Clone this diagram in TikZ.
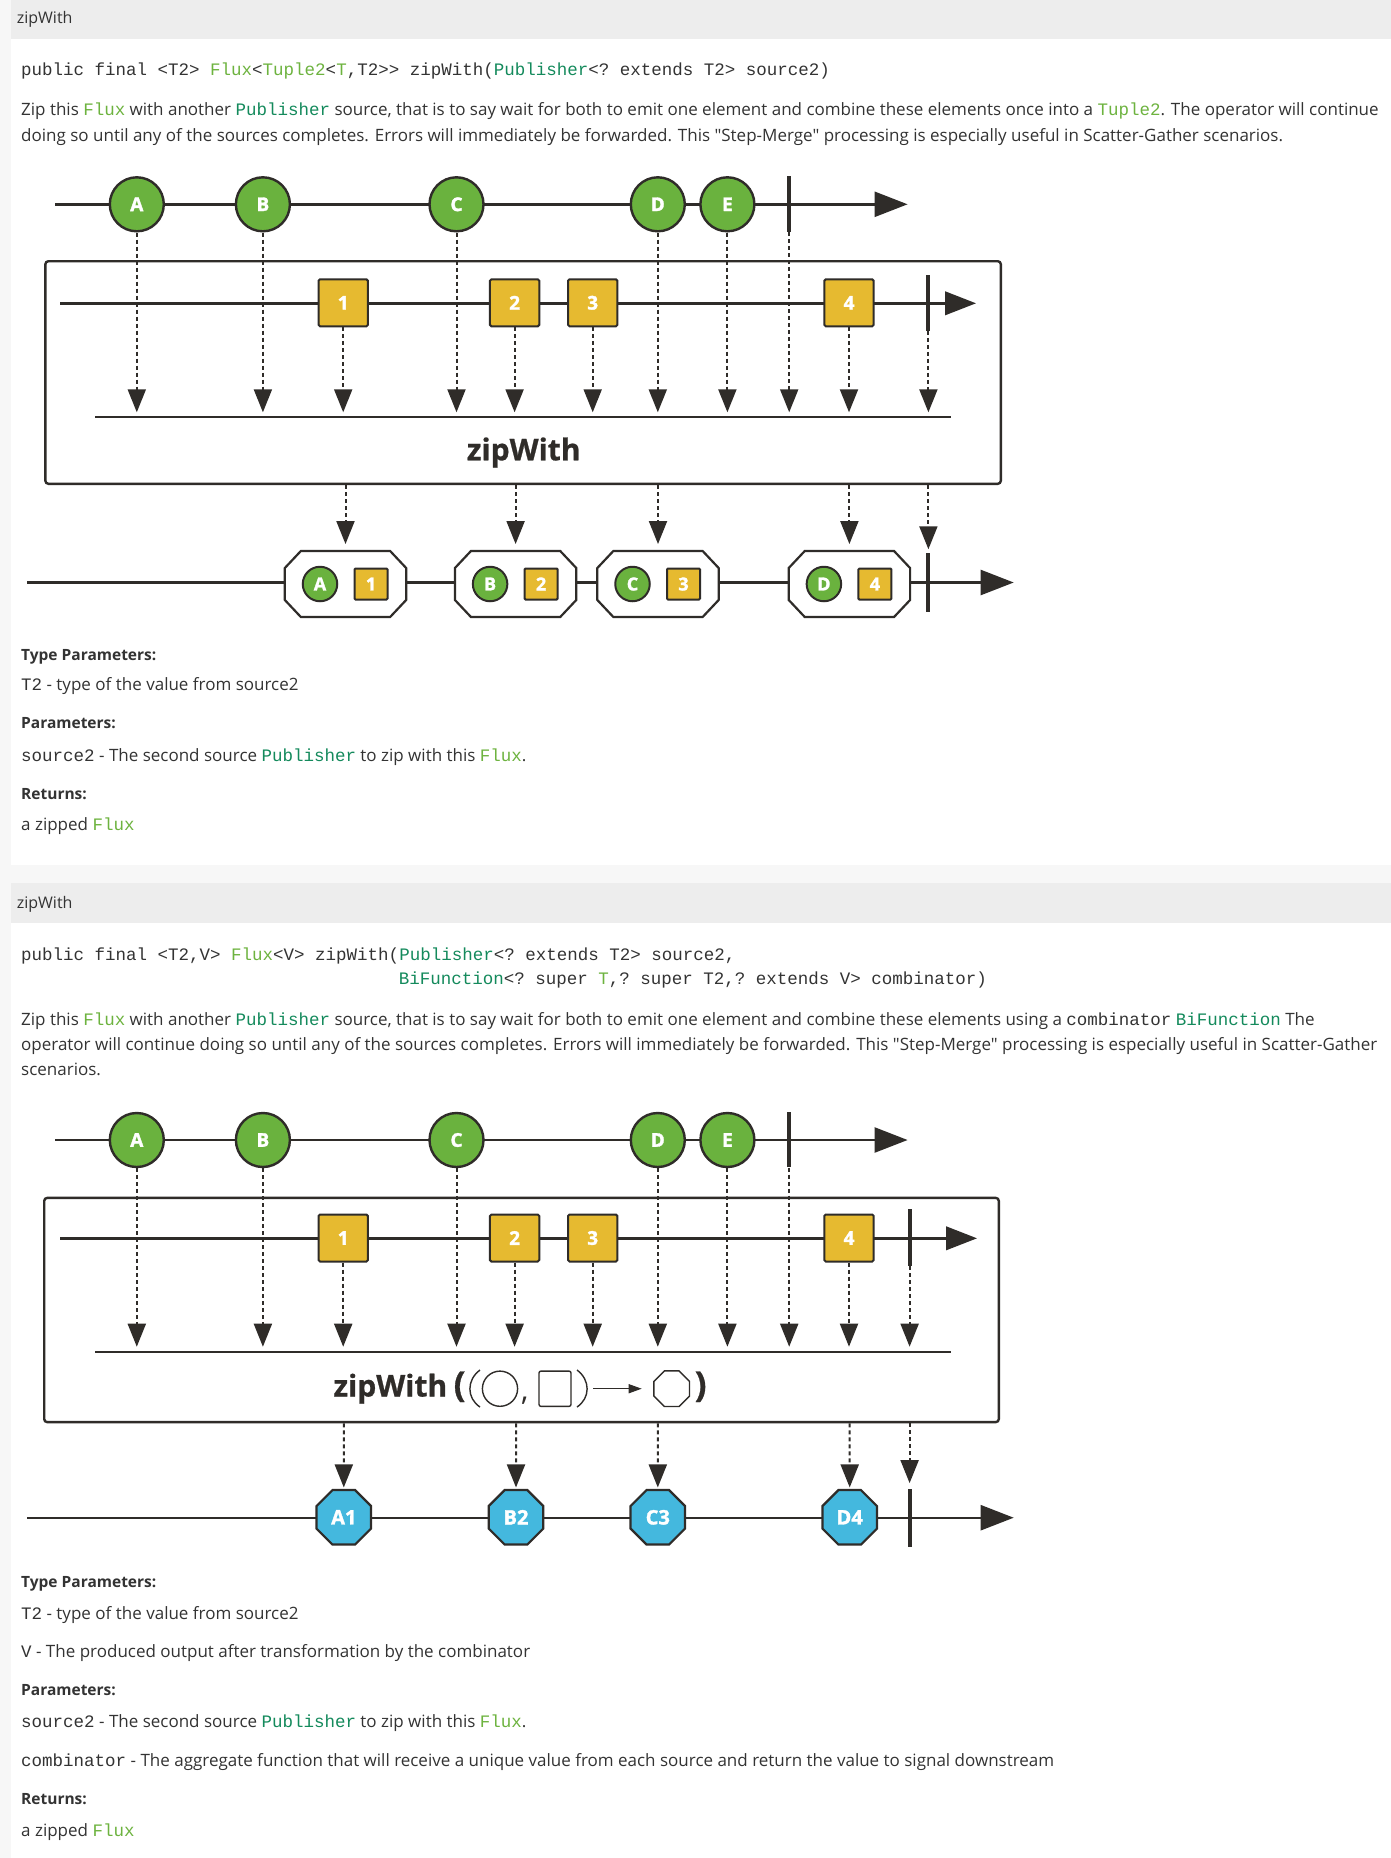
\documentclass[tikz,border=0pt]{standalone}
\usepackage{fontspec}
\setmainfont{Open Sans}[Ligatures=TeXOff]
\setmonofont{Liberation Mono}
\newfontfamily\mfont{Open Sans}[BoldFeatures={FakeBold=1.6}]
\newfontfamily\lfont{Open Sans}[BoldFeatures={FakeBold=0.8}]
\usetikzlibrary{arrows.meta,shapes.geometric}
\definecolor{dk}{HTML}{2F2C29}
\definecolor{txt}{HTML}{333333}
\definecolor{lg}{HTML}{6DB33F}
\definecolor{tg}{HTML}{148A5C}
\definecolor{mg}{HTML}{6AB23E}
\definecolor{my}{HTML}{E6BA30}
\definecolor{mb}{HTML}{44B8DE}
\definecolor{pagebg}{HTML}{F7F7F7}
\definecolor{hdr}{HTML}{EDEDED}
\newcommand\mtt[1]{{\fontsize{17.5}{20}\selectfont\ttfamily #1}}
\newcommand\fl[1]{\textcolor{lg}{\mtt{#1}}}
\newcommand\pb[1]{\textcolor{tg}{\mtt{#1}}}
\newcommand\tuplebox[5]{%
  \node (#1) [tupb] at (#2,#3) {};
  \draw[tupl] ([xshift=16pt]#1.north west) -- ([xshift=-16pt]#1.north east) -- ([yshift=-17pt]#1.north east) -- ([yshift=17pt]#1.south east) -- ([xshift=-16pt]#1.south east) -- ([xshift=16pt]#1.south west) -- ([yshift=17pt]#1.south west) -- ([yshift=-17pt]#1.north west) -- cycle;
  \node (#1c) [tc] at ([xshift=-25.5pt]#1.center) {#4};
  \node (#1s) [ts] at ([xshift=25.5pt]#1.center) {#5};
}
\tikzset{
 ln/.style={draw=dk, line width=2.4pt},
 bigarrow/.style={-{Triangle[width=25pt,length=33pt]}},
 midarrow/.style={-{Triangle[width=23.5pt,length=31pt]}},
 dsh/.style={draw=dk, line width=2pt, dash pattern=on 4pt off 3pt, -{Triangle[width=18pt,length=23pt]}},
 marb/.style={circle, draw=dk, line width=2.4pt, fill=mg, minimum size=54pt, inner sep=0pt, text=white, font=\mfont\fontsize{19}{19}\selectfont\bfseries},
 sqn/.style={rectangle, rounded corners=1.5pt, draw=dk, line width=2pt, fill=my, minimum width=49.4pt, minimum height=47pt, inner sep=0pt, text=white, font=\mfont\fontsize{19}{19}\selectfont\bfseries},
 barn/.style={rectangle, fill=dk, minimum width=4pt, inner sep=0pt},
 bx/.style={rectangle, draw=dk, line width=2.4pt, rounded corners=3pt, inner sep=0pt},
 tupb/.style={rectangle, minimum width=121pt, minimum height=65.5pt, inner sep=0pt},
 tupl/.style={draw=dk, line width=2.2pt, fill=white, line join=miter},
 tc/.style={circle, draw=dk, line width=2pt, fill=mg, minimum size=34.5pt, inner sep=0pt, text=white, font=\mfont\fontsize{18}{18}\selectfont\bfseries},
 ts/.style={rectangle, rounded corners=1pt, draw=dk, line width=2pt, fill=my, minimum width=33pt, minimum height=31pt, inner sep=0pt, text=white, font=\mfont\fontsize{18}{18}\selectfont\bfseries},
 oct/.style={regular polygon, regular polygon sides=8, draw=dk, line width=2.2pt, fill=mb, minimum size=59pt, inner sep=0pt, text=white, font=\mfont\fontsize{20}{20}\selectfont\bfseries},
 opl/.style={font=\lfont\fontsize{30}{30}\selectfont\bfseries, text=dk, inner sep=0pt},
 paren/.style={font=\lfont\fontsize{35}{35}\selectfont\bfseries, text=dk, inner sep=0pt, anchor=base west},
 thinp/.style={draw=dk, line width=1.4pt},
 tx/.style={anchor=base west, inner sep=0pt, text=txt, font=\fontsize{17}{20}\selectfont},
 hd/.style={anchor=base west, inner sep=0pt, text=txt, font=\fontsize{16}{19}\selectfont},
 hb/.style={anchor=base west, inner sep=0pt, text=txt, font=\fontsize{15.5}{19}\selectfont\bfseries},
 cl/.style={anchor=base west, inner sep=0pt, text=txt, font=\fontsize{17.5}{20}\selectfont\ttfamily},
}
\begin{document}
\begin{tikzpicture}[x=1pt,y=-1pt]
\useasboundingbox (0,0) rectangle (1391,1858);
% page
\fill[pagebg] (0,0) rectangle (1391,1858);
\fill[white] (10.6,0) rectangle (1391,865);
\fill[hdr] (10.6,0) rectangle (1391,38.5);
\fill[white] (10.6,882.7) rectangle (1391,1858);
\fill[hdr] (10.6,882.7) rectangle (1391,923.3);

% ---------- section 1 text ----------
\node (h1) [hd] at (16.6,23) {zipWith};
\node (code1) [cl] at (21,75) {public final <T2> \fl{Flux}<\fl{Tuple2}<\fl{T},T2>> zipWith(\pb{Publisher}<? extends T2> source2)};
\node (d1a) [tx] at (21,115.5) {Zip this \fl{Flux} with another \pb{Publisher} source, that is to say wait for both to emit one element and combine these elements once into a \fl{Tuple2}. The operator will continue};
\node (d1b) [tx] at (21,141.2) {doing so until any of the sources completes. Errors will immediately be forwarded. This "Step-Merge" processing is especially useful in Scatter-Gather scenarios.};

% ---------- diagram 1 ----------
\coordinate (L1s) at (55,204.3);
\coordinate (L1e) at (907.6,204.3);
\draw[ln,bigarrow] (L1s) -- (L1e);
\node (box1) [bx, minimum width=955.4pt, minimum height=222.6pt] at (523.1,372.5) {};
\coordinate (M1s) at (60,303.3);
\coordinate (M1e) at (976,303.3);
\draw[ln,midarrow] (M1s) -- (M1e);
\coordinate (B1s) at (95,416.7);
\coordinate (B1e) at (950.5,416.7);
\draw[ln] (B1s) -- (B1e);
\coordinate (tip1) at (0,412.3);

\node (a1) [marb] at (136.8,204.3) {A};
\node (b1) [marb] at (262.9,204.3) {B};
\node (c1) [marb] at (456.5,204.3) {C};
\node (dd1) [marb] at (657.8,204.3) {D};
\node (e1) [marb] at (727.4,204.3) {E};
\node (tb1) [barn, minimum height=56pt] at (789.2,204) {};
\node (s11) [sqn] at (343.2,302.8) {1};
\node (s21) [sqn] at (514.6,302.8) {2};
\node (s31) [sqn] at (592.7,302.8) {3};
\node (s41) [sqn] at (849,302.8) {4};
\node (ib1) [barn, minimum height=55.7pt] at (928.4,302.9) {};
\foreach \n in {a1,b1,s11,c1,s21,s31,dd1,e1,tb1,s41,ib1}
  \draw[dsh] (\n.south) -- (\n |- tip1);
\node (lab1) [opl] at (523.7,452.5) {zipWith};

\coordinate (O1s) at (27.3,582.5);
\coordinate (O1e) at (1013.7,582.5);
\draw[ln,bigarrow] (O1s) -- (O1e);
\tuplebox{tA}{345.5}{584}{A}{1}
\tuplebox{tB}{515.6}{584}{B}{2}
\tuplebox{tC}{658}{584}{C}{3}
\tuplebox{tD}{849.4}{584}{D}{4}
\node (ob1) [barn, minimum height=58.7pt] at (928.4,582.3) {};
\foreach \n in {tA,tB,tC,tD}
  \draw[dsh, shorten >=7pt] (\n |- box1.south) -- (\n.north);
\draw[dsh, shorten >=3.5pt] (ob1 |- box1.south) -- (ob1.north);

% ---------- section 1 lists ----------
\node (tp1) [hb] at (21,660.5) {Type Parameters:};
\node (tp1a) [tx] at (21,690.5) {\mtt{T2} - type of the value from source2};
\node (pp1) [hb] at (21,728.5) {Parameters:};
\node (pp1a) [tx] at (21,761.5) {\mtt{source2} - The second source \pb{Publisher} to zip with this \fl{Flux}.};
\node (rr1) [hb] at (21,799) {Returns:};
\node (rr1a) [tx] at (21,830.5) {a zipped \fl{Flux}};

% ---------- section 2 text ----------
\node (h2) [hd] at (16.6,908) {zipWith};
\node (code2a) [cl] at (21,960) {public final <T2,V> \fl{Flux}<V> zipWith(\pb{Publisher}<? extends T2> source2,};
\node (code2b) [cl] at (398.6,984.3) {\pb{BiFunction}<? super \fl{T},? super T2,? extends V> combinator)};
\node (d2a) [tx] at (21,1025.5) {Zip this \fl{Flux} with another \pb{Publisher} source, that is to say wait for both to emit one element and combine these elements using a \mtt{combinator} \pb{BiFunction} The};
\node (d2b) [tx] at (21,1050.8) {operator will continue doing so until any of the sources completes. Errors will immediately be forwarded. This "Step-Merge" processing is especially useful in Scatter-Gather};
\node (d2c) [tx] at (21,1075.8) {scenarios.};

% ---------- diagram 2 ----------
\coordinate (L2s) at (55,1140);
\coordinate (L2e) at (907.6,1140);
\draw[ln,bigarrow] (L2s) -- (L2e);
\node (box2) [bx, minimum width=954.6pt, minimum height=224.2pt] at (521.5,1310) {};
\coordinate (M2s) at (60,1238.3);
\coordinate (M2e) at (977,1238.3);
\draw[ln,midarrow] (M2s) -- (M2e);
\coordinate (B2s) at (95,1351.7);
\coordinate (B2e) at (950.5,1351.7);
\draw[ln] (B2s) -- (B2e);
\coordinate (tip2) at (0,1346.7);

\node (a2) [marb] at (136.8,1140) {A};
\node (b2) [marb] at (262.9,1140) {B};
\node (c2) [marb] at (456.5,1140) {C};
\node (dd2) [marb] at (657.8,1140) {D};
\node (e2) [marb] at (727.4,1140) {E};
\node (tb2) [barn, minimum height=55.6pt] at (789.2,1139.5) {};
\node (s12) [sqn] at (343.2,1238) {1};
\node (s22) [sqn] at (514.6,1238) {2};
\node (s32) [sqn] at (592.7,1238) {3};
\node (s42) [sqn] at (849,1238) {4};
\node (ib2) [barn, minimum height=56.7pt] at (909.6,1237.7) {};
\foreach \n in {a2,b2,s12,c2,s22,s32,dd2,e2,tb2,s42,ib2}
  \draw[dsh] (\n.south) -- (\n |- tip2);

% label zipWith ((O,[])-> oct )
\node (lab2) [opl, anchor=base west] at (333.3,1396.5) {zipWith};
\node (lp1) [paren] at (453.5,1396.5) {(};
\draw[thinp] (480,1370) .. controls (466.5,1380) and (466.5,1398) .. (480,1407);
\node (gc) [circle, draw=dk, line width=1.4pt, minimum size=35.2pt, inner sep=0pt] at (500,1388.7) {};
\node (gcm) [anchor=base west, inner sep=0pt, text=dk, font=\fontsize{30}{30}\selectfont] at (521,1400) {,};
\node (gsq) [rectangle, rounded corners=2pt, draw=dk, line width=1.4pt, minimum width=32pt, minimum height=35.3pt, inner sep=0pt] at (555,1388.7) {};
\draw[thinp] (577,1370) .. controls (590.5,1380) and (590.5,1398) .. (577,1407);
\coordinate (ga1) at (593.3,1388.7);
\coordinate (ga2) at (641.7,1388.7);
\draw[draw=dk, line width=1.3pt, -{Triangle[width=9pt,length=13pt]}] (ga1) -- (ga2);
\node (goct) [regular polygon, regular polygon sides=8, draw=dk, line width=1.4pt, minimum size=38.5pt, inner sep=0pt] at (671.7,1388.7) {};
\node (rp1) [paren] at (694.5,1396.5) {)};

\coordinate (O2s) at (27.3,1517.7);
\coordinate (O2e) at (1013.7,1517.7);
\draw[ln,bigarrow] (O2s) -- (O2e);
\node (oA) [oct] at (343.8,1517.3) {A1};
\node (oB) [oct] at (516,1517.3) {B2};
\node (oC) [oct] at (657.8,1517.3) {C3};
\node (oD) [oct] at (849.7,1517.3) {D4};
\node (ob2) [barn, minimum height=57.4pt] at (909.6,1518) {};
\foreach \n in {oA,oB,oC,oD}
  \draw[dsh, shorten >=1.5pt] (\n |- box2.south) -- (\n.north);
\draw[dsh, shorten >=6pt] (ob2 |- box2.south) -- (ob2.north);

% ---------- section 2 lists ----------
\node (tp2) [hb] at (21,1587) {Type Parameters:};
\node (tp2a) [tx] at (21,1619.5) {\mtt{T2} - type of the value from source2};
\node (tp2b) [tx] at (21,1657) {\mtt{V} - The produced output after transformation by the combinator};
\node (pp2) [hb] at (21,1695.5) {Parameters:};
\node (pp2a) [tx] at (21,1727.5) {\mtt{source2} - The second source \pb{Publisher} to zip with this \fl{Flux}.};
\node (pp2b) [tx] at (21,1766.5) {\mtt{combinator} - The aggregate function that will receive a unique value from each source and return the value to signal downstream};
\node (rr2) [hb] at (21,1804) {Returns:};
\node (rr2a) [tx] at (21,1836) {a zipped \fl{Flux}};
\end{tikzpicture}
\end{document}
